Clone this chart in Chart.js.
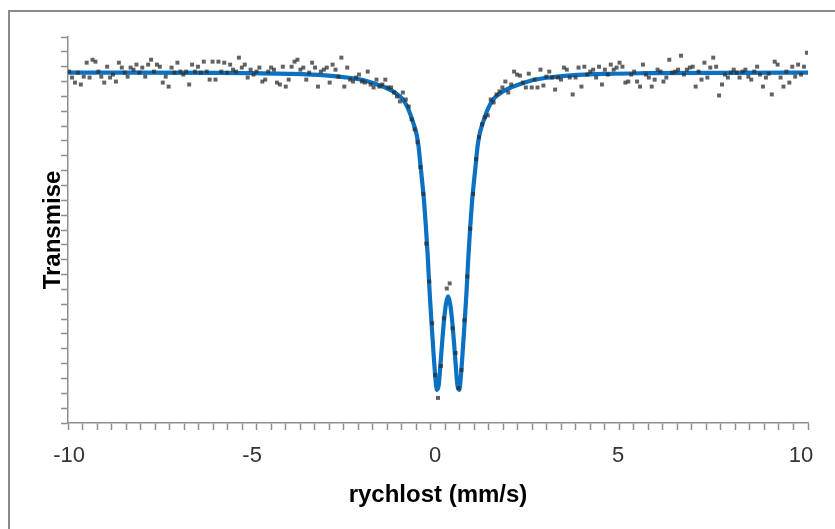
<!DOCTYPE html>
<html>
<head>
<meta charset="utf-8">
<script src="https://cdn.jsdelivr.net/npm/chart.js@4.4.1/dist/chart.umd.min.js"></script>
<style>
  html, body { margin: 0; padding: 0; background: #ffffff; }
  #wrap { width: 835px; height: 529px; }
</style>
</head>
<body>
<div id="wrap"><canvas id="c" width="835" height="529"></canvas></div>
<script>
// ---- data ----
// measured points: velocity (mm/s) and relative transmission (%)
const velocity = [
-10.00,-9.92,-9.84,-9.76,-9.68,-9.60,-9.52,-9.44,-9.36,-9.28,
-9.20,-9.12,-9.04,-8.96,-8.88,-8.80,-8.72,-8.64,-8.56,-8.48,
-8.40,-8.32,-8.24,-8.16,-8.08,-8.00,-7.92,-7.84,-7.76,-7.68,
-7.60,-7.52,-7.44,-7.36,-7.28,-7.20,-7.12,-7.04,-6.96,-6.88,
-6.80,-6.72,-6.64,-6.56,-6.48,-6.40,-6.32,-6.24,-6.16,-6.08,
-6.00,-5.92,-5.84,-5.76,-5.68,-5.60,-5.52,-5.44,-5.36,-5.28,
-5.20,-5.12,-5.04,-4.96,-4.88,-4.80,-4.72,-4.64,-4.56,-4.48,
-4.40,-4.32,-4.24,-4.16,-4.08,-4.00,-3.92,-3.84,-3.76,-3.68,
-3.60,-3.52,-3.44,-3.36,-3.28,-3.20,-3.12,-3.04,-2.96,-2.88,
-2.80,-2.72,-2.64,-2.56,-2.48,-2.40,-2.32,-2.24,-2.16,-2.08,
-2.00,-1.92,-1.84,-1.76,-1.68,-1.60,-1.52,-1.44,-1.36,-1.28,
-1.20,-1.12,-1.04,-0.96,-0.88,-0.80,-0.72,-0.64,-0.56,-0.48,
-0.40,-0.32,-0.24,-0.16,-0.08,0.00,0.08,0.16,0.24,0.32,
0.40,0.48,0.56,0.64,0.72,0.80,0.88,0.96,1.04,1.12,
1.20,1.28,1.36,1.44,1.52,1.60,1.68,1.76,1.84,1.92,
2.00,2.08,2.16,2.24,2.32,2.40,2.48,2.56,2.64,2.72,
2.80,2.88,2.96,3.04,3.12,3.20,3.28,3.36,3.44,3.52,
3.60,3.68,3.76,3.84,3.92,4.00,4.08,4.16,4.24,4.32,
4.40,4.48,4.56,4.64,4.72,4.80,4.88,4.96,5.04,5.12,
5.20,5.28,5.36,5.44,5.52,5.60,5.68,5.76,5.84,5.92,
6.00,6.08,6.16,6.24,6.32,6.40,6.48,6.56,6.64,6.72,
6.80,6.88,6.96,7.04,7.12,7.20,7.28,7.36,7.44,7.52,
7.60,7.68,7.76,7.84,7.92,8.00,8.08,8.16,8.24,8.32,
8.40,8.48,8.56,8.64,8.72,8.80,8.88,8.96,9.04,9.12,
9.20,9.28,9.36,9.44,9.52,9.60,9.68,9.76,9.84,9.92,
10.00,10.08,10.16
];
const transmission = [
100.07,99.67,99.33,100.00,99.20,99.73,100.67,99.67,100.87,100.74,
100.07,99.73,99.33,100.40,99.67,99.87,99.40,100.67,100.34,100.00,
99.73,100.34,100.20,100.54,100.00,100.34,99.73,100.54,100.87,100.07,
100.54,100.40,99.33,99.73,99.06,100.34,100.00,100.67,100.07,99.87,
100.07,99.20,100.54,100.07,100.40,100.00,100.74,100.07,99.53,100.74,
99.53,100.74,100.07,100.67,100.00,100.54,100.20,100.07,101.01,100.34,
100.54,99.67,100.20,99.87,100.07,100.34,99.40,99.53,100.07,100.34,
100.20,99.33,99.20,100.40,99.06,99.53,100.40,100.74,100.87,100.20,
100.34,99.53,100.00,100.67,100.34,99.06,100.07,100.20,100.34,99.33,
100.54,100.20,99.73,101.01,99.06,100.34,99.53,99.40,99.67,99.87,
99.40,99.33,100.07,99.20,99.00,99.53,99.06,99.20,99.53,99.00,
99.00,98.66,98.39,98.06,98.66,98.19,97.72,96.85,96.18,95.31,
93.64,91.83,88.48,85.93,83.12,79.63,78.09,80.24,83.45,85.46,
85.80,82.78,81.11,78.76,79.97,83.32,86.27,89.48,91.83,94.17,
95.65,96.52,96.99,97.12,98.19,97.99,98.53,98.73,99.00,99.40,
98.66,99.20,100.07,99.87,99.80,99.33,99.00,99.93,99.00,99.53,
99.00,100.20,99.13,99.73,100.07,99.67,98.86,99.67,99.53,100.34,
100.20,99.67,98.53,99.67,100.34,99.06,100.40,99.87,100.07,100.20,
99.67,100.40,99.20,100.20,99.87,100.54,100.20,100.34,100.67,100.40,
99.33,99.40,99.87,100.07,99.40,99.06,100.54,99.87,99.67,99.06,
99.53,100.20,100.07,99.40,99.67,100.87,100.00,100.07,100.20,101.14,
99.87,100.20,100.34,100.40,99.06,100.07,99.53,100.67,99.67,100.34,
101.01,100.40,98.46,99.20,99.87,99.67,100.00,100.20,100.00,99.67,
100.07,100.20,99.73,99.53,100.07,100.40,99.87,99.06,99.67,99.93,
98.53,100.74,100.54,99.67,99.06,100.07,99.33,100.40,99.73,100.54,
99.87,100.40,101.34
];
// fitted curve
const fitVelocity = [
-10.03,-8,-6,-5,-4,-3,-2.5,-2,-1.6,-1.3,-1.1,-0.9,-0.75,-0.6,-0.5,-0.45,-0.4,-0.35,-0.3,-0.25,
-0.2,-0.15,-0.1,-0.05,0,0.05,0.1,0.15,0.2,0.25,0.3,0.355,0.41,0.46,0.51,0.56,0.61,0.66,0.71,0.76,
0.81,0.86,0.91,0.96,1.01,1.06,1.11,1.16,1.21,1.31,1.46,1.61,1.81,2.01,2.31,2.71,3.21,3.71,4.71,5.71,
7.71,10.19
];
const fitTransmission = [
100.00,100.00,99.99,99.96,99.92,99.82,99.70,99.52,99.22,98.93,98.66,98.26,97.65,96.65,95.78,95.00,93.80,92.60,91.30,89.60,
87.60,85.26,83.25,81.40,79.70,78.63,78.96,80.44,82.04,83.45,84.46,84.93,84.46,83.45,82.04,80.44,78.96,78.63,79.70,81.40,
83.25,85.26,87.60,89.60,91.30,92.60,93.80,95.00,95.78,96.65,97.65,98.26,98.66,98.93,99.22,99.52,99.70,99.82,99.92,99.96,
99.99,100.00
];
// axis texts and ticks
const xTickLabels = [-10, -5, 0, 5, 10];
const yTicks = [76.4,77.4,78.4,79.4,80.4,81.4,82.4,83.4,84.4,85.4,86.4,87.4,88.4,89.4,90.4,91.4,92.4,93.4,94.4,95.4,96.4,97.4,98.4,99.4,100.4,101.4,102.4];
const xTitle = 'rychlost (mm/s)';
const yTitle = 'Transmise';

// ---- styling ----
const X_MIN = -10.03, X_MAX = 10.19, X_MINOR_COUNT = 51;
const AXIS_GRAY = '#8f8f8f';
const FONT = "'Liberation Sans', Arial, sans-serif";

const frame = {
  id: 'frame',
  beforeDraw(chart) {
    const ctx = chart.ctx;
    ctx.save();
    ctx.fillStyle = '#ffffff';
    ctx.fillRect(0, 0, chart.width, chart.height);
    ctx.strokeStyle = '#8a8a8a';
    ctx.lineWidth = 2;
    ctx.strokeRect(9, 11, 1000, 1000);
    ctx.restore();
  }
};

new Chart(document.getElementById('c'), {
  type: 'scatter',
  data: {
    datasets: [
      {
        label: 'měření',
        data: velocity.map((v, i) => ({ x: v, y: transmission[i] })),
        pointStyle: 'rect',
        pointRadius: 2.8,
        pointBorderWidth: 0,
        pointBackgroundColor: 'rgba(45,45,45,0.75)',
        showLine: false,
        order: 0
      },
      {
        label: 'fit',
        data: fitVelocity.map((v, i) => ({ x: v, y: fitTransmission[i] })),
        showLine: true,
        borderColor: '#0b71c3',
        borderWidth: 4.2,
        pointRadius: 0,
        cubicInterpolationMode: 'monotone',
        fill: false,
        order: 1
      }
    ]
  },
  options: {
    responsive: false,
    animation: false,
    devicePixelRatio: 1,
    layout: { padding: { left: 41, right: 27, top: 37, bottom: 10 } },
    plugins: { legend: { display: false }, tooltip: { enabled: false } },
    scales: {
      x: {
        type: 'linear',
        min: X_MIN,
        max: X_MAX,
        afterBuildTicks(scale) {
          const t = [];
          for (let k = 0; k <= X_MINOR_COUNT; k++) {
            t.push({ value: X_MIN + (X_MAX - X_MIN) * k / X_MINOR_COUNT, m: true });
          }
          xTickLabels.forEach(v => t.push({ value: v, m: false }));
          t.sort((a, b) => a.value - b.value);
          scale.ticks = t;
        },
        grid: {
          drawOnChartArea: false,
          drawTicks: true,
          tickLength: 7,
          tickWidth: 1.5,
          tickColor: (c) => (c.tick && c.tick.m) ? AXIS_GRAY : 'rgba(0,0,0,0)'
        },
        border: { display: true, color: AXIS_GRAY, width: 1.5 },
        ticks: {
          autoSkip: false,
          maxRotation: 0,
          minRotation: 0,
          padding: 13,
          color: '#333333',
          font: { family: FONT, size: 22 },
          callback: function (value, index, ticks) {
            return ticks[index].m ? '' : String(value);
          }
        },
        title: {
          display: true,
          text: xTitle,
          color: '#000000',
          font: { family: FONT, size: 24, weight: 'bold', lineHeight: 1.2 },
          padding: { top: -1.8, bottom: 9.6 }
        }
      },
      y: {
        type: 'linear',
        min: 76.4,
        max: 102.4,
        afterBuildTicks(scale) {
          scale.ticks = yTicks.map(v => ({ value: v }));
        },
        grid: {
          drawOnChartArea: false,
          drawTicks: true,
          tickLength: 7,
          tickWidth: 1.5,
          tickColor: AXIS_GRAY
        },
        border: { display: true, color: AXIS_GRAY, width: 1.5 },
        ticks: { display: false },
        title: {
          display: true,
          text: yTitle,
          color: '#000000',
          font: { family: FONT, size: 24, weight: 'bold', lineHeight: 1 },
          padding: { top: 0, bottom: -4 }
        }
      }
    }
  },
  plugins: [frame]
});
</script>
</body>
</html>
